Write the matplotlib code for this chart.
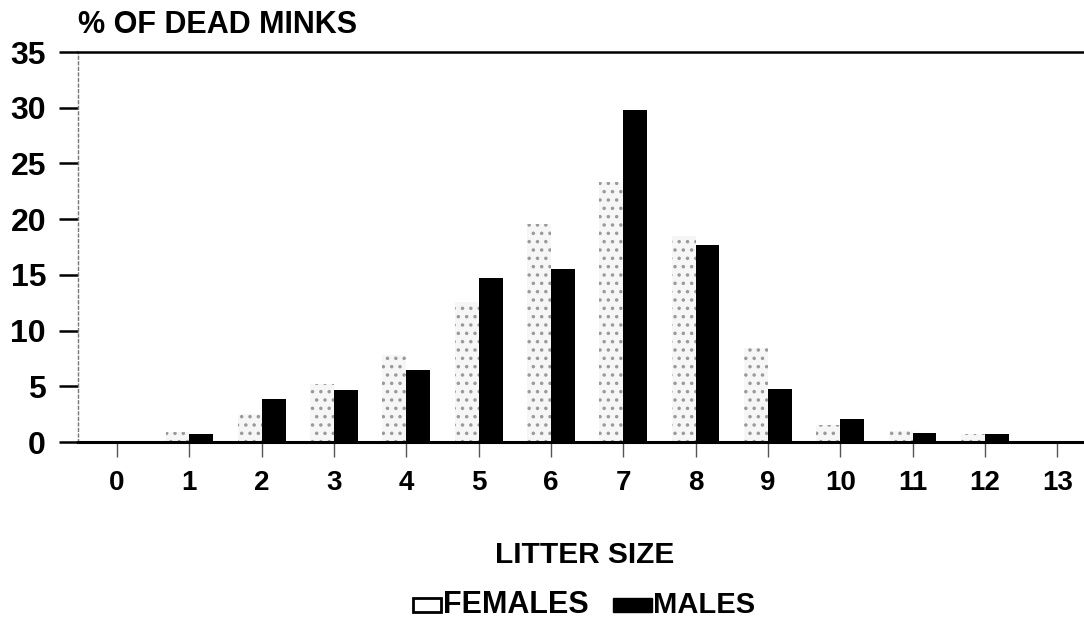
import matplotlib
matplotlib.use("Agg")
import matplotlib.pyplot as plt
from matplotlib.patches import Rectangle
import numpy as np

litter_size = list(range(14))
females = [0.0, 0.9, 2.5, 5.2, 7.8, 12.6, 19.6, 23.3, 18.5, 8.4, 1.5, 1.0, 0.7, 0.0]
males = [0.0, 0.7, 3.9, 4.7, 6.5, 14.7, 15.5, 29.8, 17.7, 4.8, 2.1, 0.8, 0.7, 0.0]
y_ticks = [0, 5, 10, 15, 20, 25, 30, 35]

plt.rcParams["font.family"] = ["Liberation Sans", "DejaVu Sans"]
plt.rcParams["font.weight"] = "bold"
plt.rcParams["hatch.linewidth"] = 1.3

W, H = 1084, 620
fig = plt.figure(figsize=(W / 100, H / 100), dpi=100)
ax = fig.add_axes([78 / W, (H - 442) / H, 1 - 78 / W, (442 - 52) / H])

x = np.arange(len(litter_size))
bw = 0.33
ax.bar(x - bw / 2, females, width=bw, facecolor="#f6f6f6", edgecolor="#9a9a9a",
       hatch="..", linewidth=0, zorder=2)
ax.bar(x + bw / 2, males, width=bw, color="black", linewidth=0, zorder=3)

ax.set_xlim(-0.54, 13.37)
ax.set_ylim(0, 35)

ax.spines["right"].set_visible(False)
ax.spines["top"].set_linewidth(1.8)
ax.spines["bottom"].set_linewidth(2.2)
ax.spines["left"].set_linewidth(1.0)
ax.spines["left"].set_color("#777777")
ax.spines["left"].set_linestyle((0, (2, 2)))

ax.set_yticks(y_ticks)
ax.set_yticklabels([str(v) for v in y_ticks], fontsize=23, fontweight="bold")
ax.tick_params(axis="y", length=14, width=1.8, pad=9, color="black")
ax.set_xticks(x)
ax.set_xticklabels([str(v) for v in litter_size], fontsize=20, fontweight="bold")
ax.tick_params(axis="x", length=11, width=1.0, color="#555555", pad=9)

fig.text(78 / W, 1 - 25 / H, "% OF DEAD MINKS", fontsize=22, fontweight="bold",
         va="center", ha="left")
fig.text(585 / W, 1 - 555 / H, "LITTER SIZE", fontsize=21.5, fontweight="bold",
         va="center", ha="center")

# legend: outlined box for females, solid box for males
fig.patches.append(Rectangle((413 / W, 1 - 612 / H), 28 / W, 14 / H, transform=fig.transFigure,
                             facecolor="white", edgecolor="black", linewidth=2))
fig.text(443 / W, 1 - 605 / H, "FEMALES", fontsize=22, fontweight="bold",
         va="center", ha="left")
fig.patches.append(Rectangle((613 / W, 1 - 612 / H), 39 / W, 14 / H, transform=fig.transFigure,
                             facecolor="black", edgecolor="black", linewidth=1))
fig.text(653 / W, 1 - 605 / H, "MALES", fontsize=21, fontweight="bold",
         va="center", ha="left")

fig.savefig("out.png", dpi=100)
